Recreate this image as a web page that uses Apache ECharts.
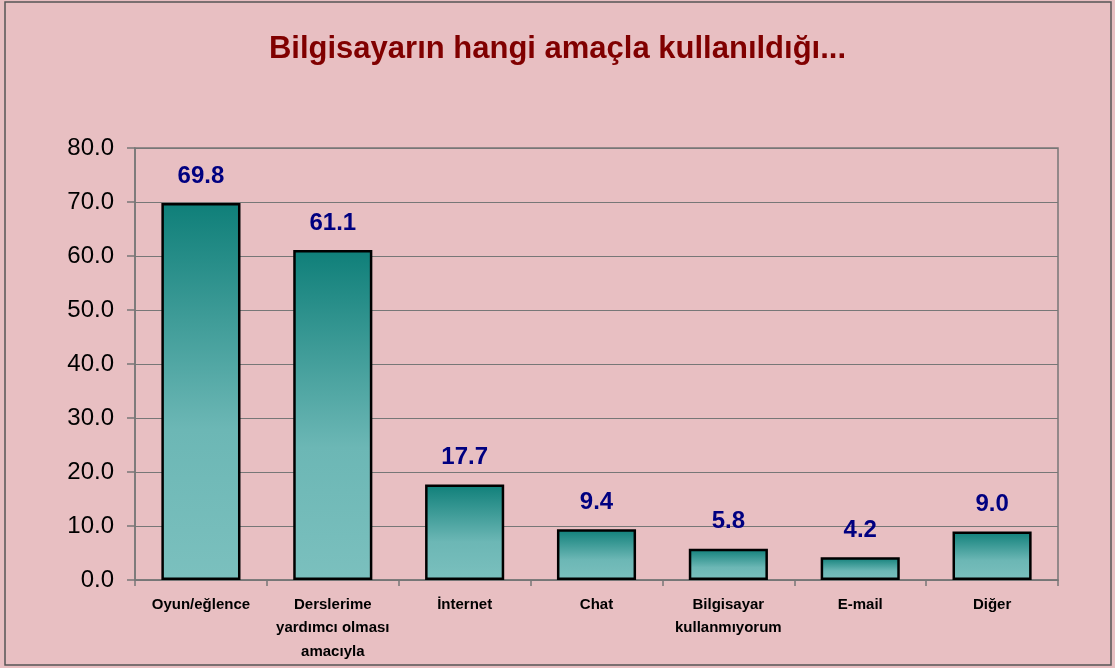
<!DOCTYPE html>
<html>
<head>
<meta charset="utf-8">
<script src="https://cdn.jsdelivr.net/npm/echarts@6/dist/echarts.min.js"></script>
<style>
html, body { margin: 0; padding: 0; background: #e8bfc2; }
#chart { width: 1115px; height: 668px; }
</style>
</head>
<body>
<div id="chart"></div>
<script>
// kategoriler ve yüzdeler
var categories = ['Oyun/eğlence', 'Derslerime\nyardımcı olması\namacıyla', 'İnternet', 'Chat', 'Bilgisayar\nkullanmıyorum', 'E-mail', 'Diğer'];
var values = [69.8, 61.1, 17.7, 9.4, 5.8, 4.2, 9.0];
var yTicks = [0, 10, 20, 30, 40, 50, 60, 70, 80];

var FONT = "'Liberation Sans', Arial, sans-serif";

var chart = echarts.init(document.getElementById('chart'));

var option = {
    backgroundColor: '#e8bfc2',
    animation: false,
    title: {
        text: 'Bilgisayarın hangi amaçla kullanıldığı...',
        left: 'center',
        top: 29,
        textStyle: {
            fontFamily: FONT,
            fontSize: 31,
            fontWeight: 'bold',
            color: '#800000'
        }
    },
    graphic: [{
        type: 'rect',
        shape: { x: 5, y: 2, width: 1106, height: 663 },
        style: { fill: null, stroke: '#555', lineWidth: 1.5 },
        silent: true
    }],
    grid: {
        left: 135,
        right: 57,
        top: 148,
        bottom: 88,
        show: true,
        borderColor: '#777',
        borderWidth: 1.5,
        backgroundColor: 'transparent'
    },
    xAxis: {
        type: 'category',
        data: categories,
        axisLine: { lineStyle: { color: '#777', width: 1.5 } },
        axisTick: { show: true, length: 6, lineStyle: { color: '#777', width: 1.5 } },
        axisLabel: {
            color: '#000',
            fontFamily: FONT,
            fontSize: 15,
            fontWeight: 'bold',
            lineHeight: 23.5,
            margin: 13,
            interval: 0
        }
    },
    yAxis: {
        type: 'value',
        min: yTicks[0],
        max: yTicks[yTicks.length - 1],
        interval: 10,
        axisLine: { show: true, lineStyle: { color: '#777', width: 1.5 } },
        axisTick: { show: true, length: 8, lineStyle: { color: '#777', width: 1.5 } },
        splitLine: { lineStyle: { color: '#777', width: 1.2 } },
        axisLabel: {
            color: '#000',
            fontFamily: FONT,
            fontSize: 24,
            margin: 21,
            formatter: function (v) { return v.toFixed(1); }
        }
    },
    series: [{
        type: 'bar',
        data: values,
        barCategoryGap: '40%',
        itemStyle: {
            borderColor: '#000',
            borderWidth: 2.5,
            color: new echarts.graphic.LinearGradient(0, 0, 0, 1, [
                { offset: 0, color: '#0f7f79' },
                { offset: 0.6, color: '#6cb7b5' },
                { offset: 1, color: '#7bc0be' }
            ])
        },
        label: {
            show: true,
            position: 'top',
            distance: 15,
            color: '#000080',
            fontFamily: FONT,
            fontSize: 24,
            fontWeight: 'bold',
            formatter: function (p) { return p.value.toFixed(1); }
        }
    }]
};

chart.setOption(option);
</script>
</body>
</html>
